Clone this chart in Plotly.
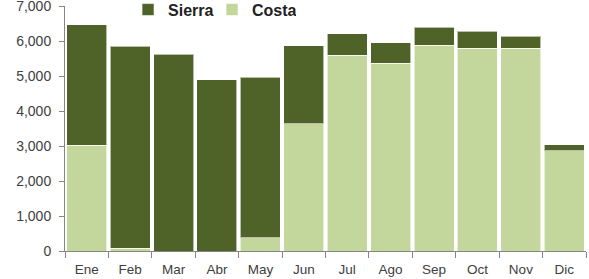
import plotly.graph_objects as go

months = ["Ene", "Feb", "Mar", "Abr", "May", "Jun", "Jul", "Ago", "Sep", "Oct", "Nov", "Dic"]
costa = [3020, 80, 0, 0, 380, 3640, 5590, 5360, 5880, 5790, 5790, 2860]
sierra_total = [6460, 5850, 5620, 4890, 4960, 5870, 6210, 5950, 6390, 6280, 6140, 3030]
sierra = [t - c for t, c in zip(sierra_total, costa)]

dark = "#4F6228"
light = "#C3D69B"

fig = go.Figure()
fig.add_trace(go.Bar(x=months, y=costa, name="Costa", marker=dict(color=light, line=dict(color="rgba(255,255,255,0.6)", width=1))))
fig.add_trace(go.Bar(x=months, y=sierra, name="Sierra", marker=dict(color=dark, line=dict(color="rgba(255,255,255,0.6)", width=1))))

fig.update_layout(
    width=589, height=279,
    margin=dict(l=65, r=3, t=6, b=28, autoexpand=False),
    barmode="stack", bargap=0.08,
    plot_bgcolor="white", paper_bgcolor="white",
    font=dict(family="Liberation Sans, Arial, sans-serif", size=14, color="#404040"),
    legend=dict(orientation="h", x=0.121, xanchor="left", y=0.985, yanchor="middle",
                traceorder="reversed", font=dict(size=16, color="#222222", weight="bold"),
                bgcolor="rgba(255,255,255,0)", itemwidth=30, tracegroupgap=0, entrywidth=39),
    xaxis=dict(showline=True, linecolor="#868686", linewidth=1, ticks="outside", tickson="boundaries",
               ticklen=6, tickcolor="#868686", showgrid=False, tickfont=dict(size=13.5),
               ticklabelstandoff=6),
    yaxis=dict(range=[0, 7000], dtick=1000, tickformat=",", showline=True, linecolor="#868686", linewidth=1,
               ticks="outside", ticklen=5, tickcolor="#868686", showgrid=False, zeroline=False,
               tickfont=dict(size=14), ticklabelstandoff=5, ticklabeloverflow="allow"),
)

fig.write_html("out.html", config={"displayModeBar": False},
               post_script="document.body.style.margin='0';")
